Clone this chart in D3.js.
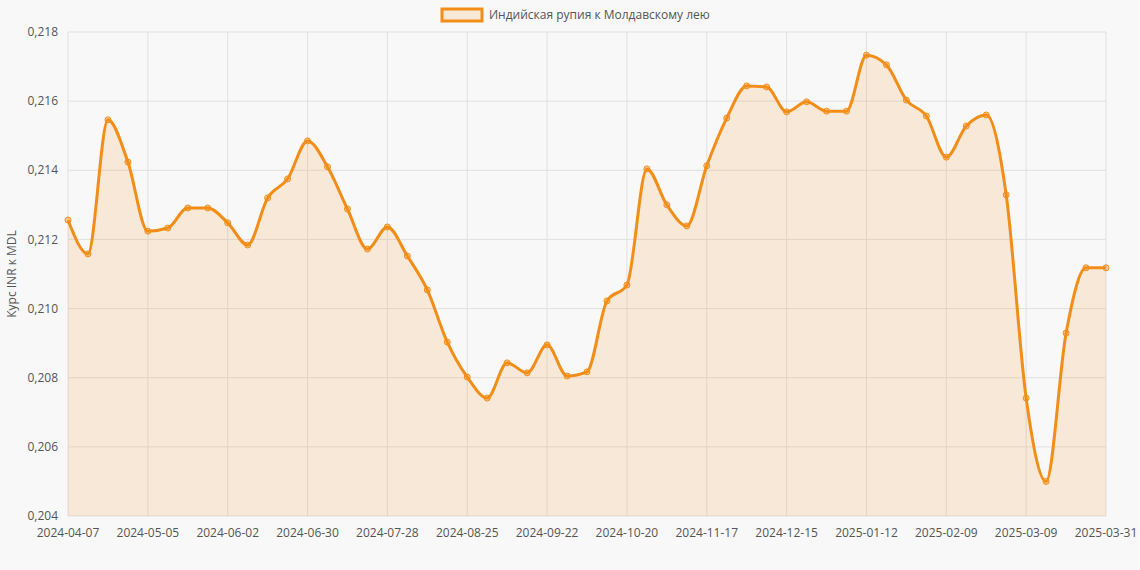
<!DOCTYPE html>
<html><head><meta charset="utf-8">
<script src="https://cdn.jsdelivr.net/npm/d3@7"></script>
<style>body{margin:0;background:#f8f8f8;font-family:"Open Sans",Arial,sans-serif}</style>
</head><body><svg id="c" width="1140" height="570"></svg>
<script>
// weekly rate values
var values = [0.21256,0.21158,0.21546,0.21424,0.21224,0.21233,0.21291,0.21291,0.21248,0.21184,
  0.2132,0.21375,0.21485,0.2141,0.21288,0.21172,0.21236,0.21152,0.21054,0.20903,
  0.20802,0.20741,0.20843,0.20814,0.20895,0.20805,0.20817,0.21022,0.21068,0.21404,
  0.213,0.21239,0.21413,0.21551,0.21644,0.21641,0.21569,0.21598,0.21571,0.21571,
  0.21733,0.21705,0.21603,0.21557,0.21438,0.21528,0.2156,0.21329,0.20741,0.205,
  0.20929,0.21118,0.21118];
var yTicks = [0.204,0.206,0.208,0.210,0.212,0.214,0.216,0.218];
var legendLabel = "Индийская рупия к Молдавскому лею";
var yTitle = "Курс INR к MDL";

var fmt = d3.utcFormat("%Y-%m-%d");
var dates = values.map(function(v, i) {
  if (i == values.length - 1) return "2025-03-31";
  return fmt(d3.utcDay.offset(new Date(Date.UTC(2024, 3, 7)), 7 * i));
});

var svg = d3.select("#c");
var m = {l: 68, r: 34, t: 32, b: 54};
var w = 1140 - m.l - m.r, h = 570 - m.t - m.b;
var x = d3.scalePoint().domain(d3.range(values.length)).range([0, w]);
var y = d3.scaleLinear().domain([0.204, 0.218]).range([h, 0]);
var g = svg.append("g").attr("transform", "translate(" + m.l + "," + m.t + ")");

// grid
g.selectAll(".gy").data(yTicks).enter().append("line")
  .attr("x1", 0).attr("x2", w).attr("y1", y).attr("y2", y).attr("stroke", "#e0e0e0");
var xTickIdx = d3.range(values.length).filter(function(i){ return i % 4 == 0 || i == values.length - 1; });
g.selectAll(".gx").data(xTickIdx).enter().append("line")
  .attr("y1", 0).attr("y2", h).attr("x1", x).attr("x2", x).attr("stroke", "#e0e0e0");

var area = d3.area().x(function(d, i){ return x(i); }).y0(h).y1(function(d){ return y(d); }).curve(d3.curveMonotoneX);
var line = d3.line().x(function(d, i){ return x(i); }).y(function(d){ return y(d); }).curve(d3.curveMonotoneX);
g.append("path").datum(values).attr("d", area).attr("fill", "rgba(242,142,24,0.15)");
g.append("path").datum(values).attr("d", line).attr("fill", "none").attr("stroke", "#f28e18").attr("stroke-width", 3);
g.selectAll(".pt").data(values).enter().append("circle")
  .attr("cx", function(d, i){ return x(i); }).attr("cy", y).attr("r", 3)
  .attr("fill", "rgba(242,142,24,0.4)").attr("stroke", "#f28e18").attr("stroke-width", 1);

// axes labels
g.selectAll(".yt").data(yTicks).enter().append("text")
  .attr("x", -10).attr("y", y).attr("dy", "0.35em").attr("text-anchor", "end")
  .attr("font-size", 12).attr("fill", "#555").text(function(d){ return d.toFixed(3).replace(".", ","); });
g.selectAll(".xt").data(xTickIdx).enter().append("text")
  .attr("x", x).attr("y", h + 21).attr("text-anchor", "middle")
  .attr("font-size", 12).attr("fill", "#555").text(function(i){ return dates[i]; });
svg.append("text").attr("transform", "translate(16," + (m.t + h / 2) + ") rotate(-90)")
  .attr("text-anchor", "middle").attr("font-size", 12).attr("fill", "#555").text(yTitle);

// legend
svg.append("rect").attr("x", 442).attr("y", 9).attr("width", 40).attr("height", 12)
  .attr("fill", "rgba(242,142,24,0.15)").attr("stroke", "#f28e18").attr("stroke-width", 3);
svg.append("text").attr("x", 489).attr("y", 19).attr("font-size", 12).attr("fill", "#555").text(legendLabel);
</script></body></html>
